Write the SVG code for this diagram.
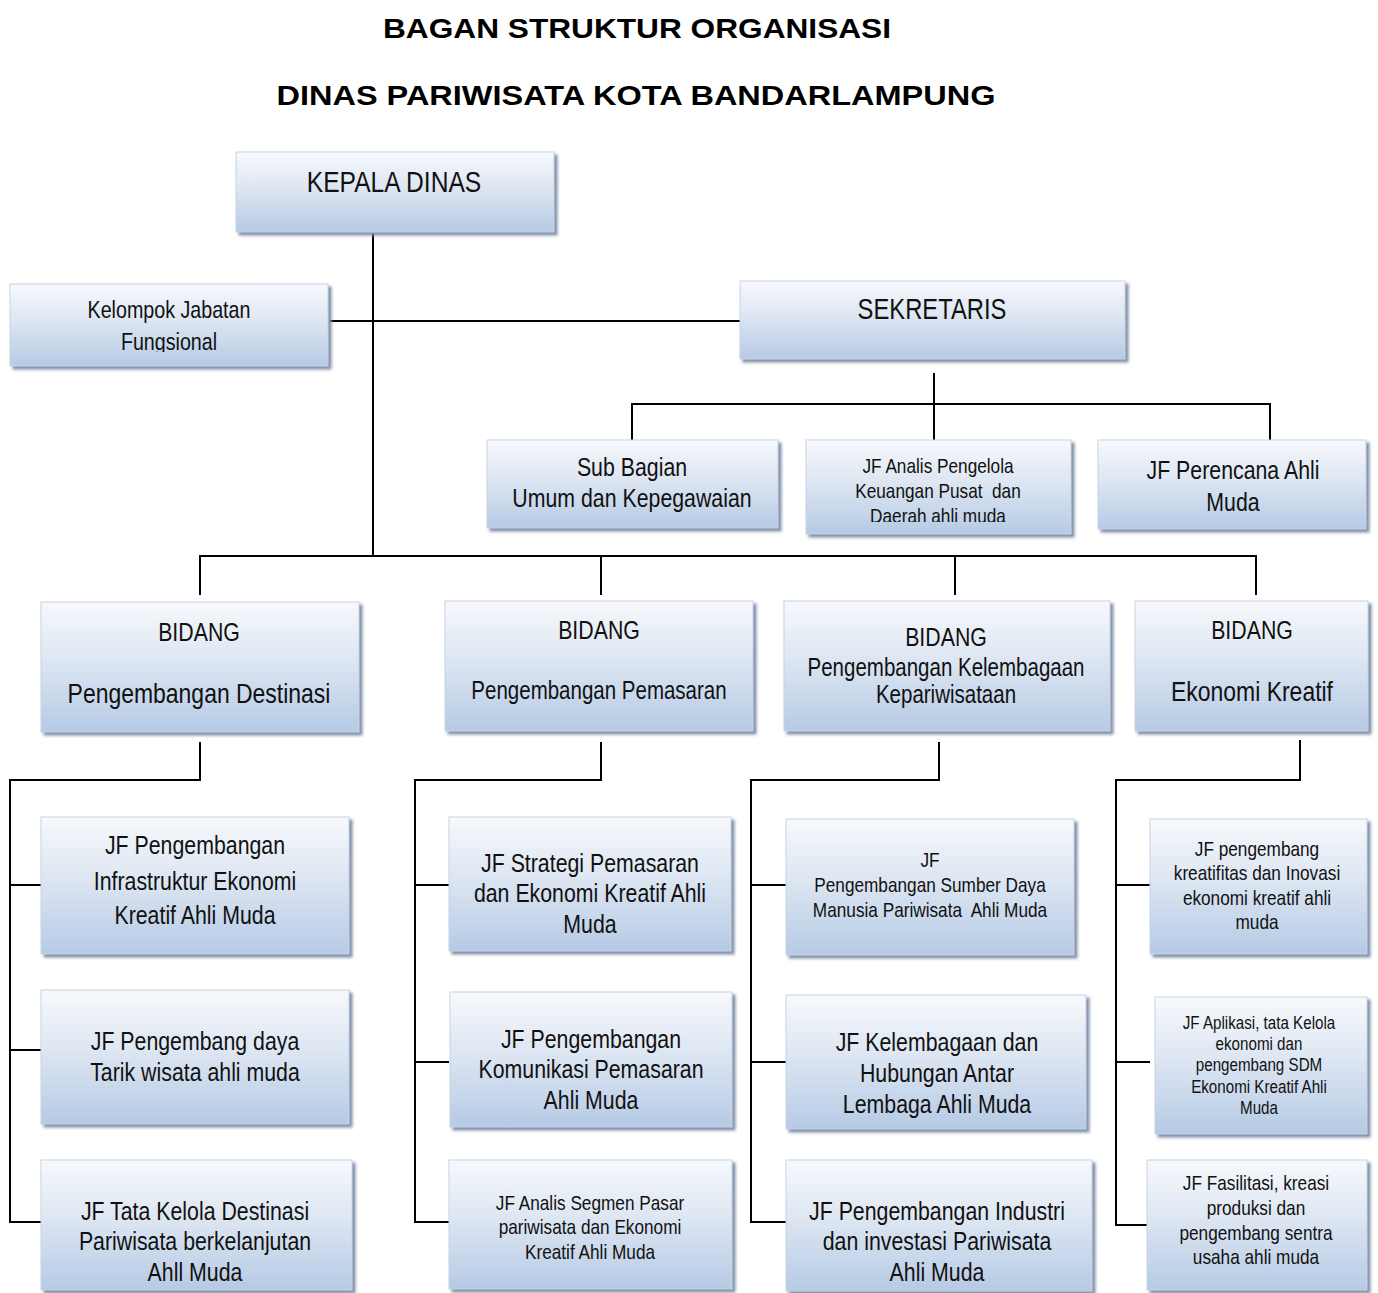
<svg xmlns="http://www.w3.org/2000/svg" width="1378" height="1293" viewBox="0 0 1378 1293">
<defs>
<linearGradient id="g" x1="0" y1="0" x2="0" y2="1">
<stop offset="0" stop-color="#f7f9fc"/>
<stop offset="0.45" stop-color="#dde6f2"/>
<stop offset="1" stop-color="#b6cae5"/>
</linearGradient>
<filter id="sh" x="-5%" y="-5%" width="115%" height="120%">
<feGaussianBlur in="SourceAlpha" stdDeviation="1.5"/>
<feOffset dx="3" dy="3" result="b"/>
<feFlood flood-color="#7f8fa8"/>
<feComposite in2="b" operator="in"/>
<feMerge><feMergeNode/><feMergeNode in="SourceGraphic"/></feMerge>
</filter>
<clipPath id="c1"><rect x="10" y="284" width="320" height="68"/></clipPath>
<clipPath id="c2"><rect x="806" y="440" width="267" height="82"/></clipPath>
</defs>
<style>
.b{fill:url(#g);stroke:#c8d3e3;stroke-width:1;filter:url(#sh)}
.t{font-family:"Liberation Sans",Arial,sans-serif;fill:#111;text-anchor:middle}
.p{white-space:pre}
.h{font-family:"Liberation Sans",Arial,sans-serif;font-weight:bold;font-size:28px;fill:#000;text-anchor:middle}
.l{stroke:#000;stroke-width:2;fill:none}
</style>
<rect width="1378" height="1293" fill="#fff"/>
<text class="h" x="637" y="38" textLength="508" lengthAdjust="spacingAndGlyphs">BAGAN STRUKTUR ORGANISASI</text>
<text class="h" x="636" y="105" textLength="719" lengthAdjust="spacingAndGlyphs">DINAS PARIWISATA KOTA BANDARLAMPUNG</text>

<g id="connectors">
<path class="l" d="M373 232V556M330 321H740M934 373V440M632 440V404H1270V440M200 595V556H1256V595M601 556V595M955 556V595"/>
<path class="l" d="M200 742V780H10V1222H41M10 885H41M10 1050H41"/>
<path class="l" d="M601 742V780H415V1222H449M415 885H449M415 1062H449"/>
<path class="l" d="M939 742V780H751V1222H786M751 885H786M751 1062H786"/>
<path class="l" d="M1300 740V780H1116V1225H1150M1116 885H1150M1116 1062H1150"/>
</g>

<g id="kepala"><rect class="b" x="236" y="152" width="318" height="80"/><text class="t" transform="matrix(.82 0 0 1 394 0)" x="0" y="192" font-size="30">KEPALA DINAS</text></g>
<g id="kelompok"><rect class="b" x="10" y="284" width="318" height="82"/><g clip-path="url(#c1)"><text class="t" transform="matrix(.82 0 0 1 169 0)" x="0" y="318" font-size="24">Kelompok Jabatan</text><text class="t" transform="matrix(.82 0 0 1 169 0)" x="0" y="350" font-size="24">Fungsional</text></g></g>
<g id="sekretaris"><rect class="b" x="740" y="281" width="385" height="78"/><text class="t" transform="matrix(.82 0 0 1 932 0)" x="0" y="319" font-size="29">SEKRETARIS</text></g>
<g id="subbag"><rect class="b" x="487" y="440" width="291" height="88"/><text class="t" transform="matrix(.82 0 0 1 632 0)" x="0" y="476" font-size="26">Sub Bagian</text><text class="t" transform="matrix(.82 0 0 1 632 0)" x="0" y="507" font-size="26">Umum dan Kepegawaian</text></g>
<g id="jfanalis"><rect class="b" x="806" y="440" width="265" height="94"/><g clip-path="url(#c2)"><text class="t" transform="matrix(.82 0 0 1 938 0)" x="0" y="473" font-size="21">JF Analis Pengelola</text><text class="t p" transform="matrix(.82 0 0 1 938 0)" x="0" y="498" font-size="21">Keuangan Pusat  dan</text><text class="t" transform="matrix(.82 0 0 1 938 0)" x="0" y="523" font-size="21">Daerah ahli muda</text></g></g>
<g id="jfperencana"><rect class="b" x="1098" y="440" width="268" height="89"/><text class="t" transform="matrix(.82 0 0 1 1233 0)" x="0" y="479" font-size="26">JF Perencana Ahli</text><text class="t" transform="matrix(.82 0 0 1 1233 0)" x="0" y="511" font-size="26">Muda</text></g>

<g id="bidang1"><rect class="b" x="41" y="602" width="318" height="130"/><text class="t" transform="matrix(.82 0 0 1 199 0)" x="0" y="641" font-size="26">BIDANG</text><text class="t" transform="matrix(.82 0 0 1 199 0)" x="0" y="703" font-size="28">Pengembangan Destinasi</text></g>
<g id="bidang2"><rect class="b" x="445" y="601" width="308" height="130"/><text class="t" transform="matrix(.82 0 0 1 599 0)" x="0" y="639" font-size="26">BIDANG</text><text class="t" transform="matrix(.82 0 0 1 599 0)" x="0" y="699" font-size="25">Pengembangan Pemasaran</text></g>
<g id="bidang3"><rect class="b" x="784" y="601" width="326" height="130"/><text class="t" transform="matrix(.82 0 0 1 946 0)" x="0" y="646" font-size="26">BIDANG</text><text class="t" transform="matrix(.82 0 0 1 946 0)" x="0" y="676" font-size="25">Pengembangan Kelembagaan</text><text class="t" transform="matrix(.82 0 0 1 946 0)" x="0" y="703" font-size="25">Kepariwisataan</text></g>
<g id="bidang4"><rect class="b" x="1135" y="601" width="233" height="130"/><text class="t" transform="matrix(.82 0 0 1 1252 0)" x="0" y="639" font-size="26">BIDANG</text><text class="t" transform="matrix(.82 0 0 1 1252 0)" x="0" y="701" font-size="28">Ekonomi Kreatif</text></g>

<g id="c1a"><rect class="b" x="41" y="817" width="308" height="137"/><text class="t" transform="matrix(.82 0 0 1 195 0)" x="0" y="854" font-size="26">JF Pengembangan</text><text class="t" transform="matrix(.82 0 0 1 195 0)" x="0" y="890" font-size="26">Infrastruktur Ekonomi</text><text class="t" transform="matrix(.82 0 0 1 195 0)" x="0" y="924" font-size="26">Kreatif Ahli Muda</text></g>
<g id="c1b"><rect class="b" x="41" y="990" width="308" height="134"/><text class="t" transform="matrix(.82 0 0 1 195 0)" x="0" y="1050" font-size="26">JF Pengembang daya</text><text class="t" transform="matrix(.82 0 0 1 195 0)" x="0" y="1081" font-size="26">Tarik wisata ahli muda</text></g>
<g id="c1c"><rect class="b" x="41" y="1160" width="311" height="130"/><text class="t" transform="matrix(.82 0 0 1 195 0)" x="0" y="1220" font-size="26">JF Tata Kelola Destinasi</text><text class="t" transform="matrix(.82 0 0 1 195 0)" x="0" y="1250" font-size="26">Pariwisata berkelanjutan</text><text class="t" transform="matrix(.82 0 0 1 195 0)" x="0" y="1281" font-size="26">Ahll Muda</text></g>

<g id="c2a"><rect class="b" x="449" y="817" width="282" height="134"/><text class="t" transform="matrix(.82 0 0 1 590 0)" x="0" y="872" font-size="26">JF Strategi Pemasaran</text><text class="t" transform="matrix(.82 0 0 1 590 0)" x="0" y="902" font-size="26">dan Ekonomi Kreatif Ahli</text><text class="t" transform="matrix(.82 0 0 1 590 0)" x="0" y="933" font-size="26">Muda</text></g>
<g id="c2b"><rect class="b" x="450" y="992" width="282" height="135"/><text class="t" transform="matrix(.82 0 0 1 591 0)" x="0" y="1048" font-size="26">JF Pengembangan</text><text class="t" transform="matrix(.82 0 0 1 591 0)" x="0" y="1078" font-size="26">Komunikasi Pemasaran</text><text class="t" transform="matrix(.82 0 0 1 591 0)" x="0" y="1109" font-size="26">Ahli Muda</text></g>
<g id="c2c"><rect class="b" x="449" y="1160" width="283" height="129"/><text class="t" transform="matrix(.82 0 0 1 590 0)" x="0" y="1210" font-size="21">JF Analis Segmen Pasar</text><text class="t" transform="matrix(.82 0 0 1 590 0)" x="0" y="1234" font-size="21">pariwisata dan Ekonomi</text><text class="t" transform="matrix(.82 0 0 1 590 0)" x="0" y="1259" font-size="21">Kreatif Ahli Muda</text></g>

<g id="c3a"><rect class="b" x="786" y="819" width="288" height="136"/><text class="t" transform="matrix(.82 0 0 1 930 0)" x="0" y="867" font-size="21">JF</text><text class="t" transform="matrix(.82 0 0 1 930 0)" x="0" y="892" font-size="21">Pengembangan Sumber Daya</text><text class="t p" transform="matrix(.82 0 0 1 930 0)" x="0" y="917" font-size="21">Manusia Pariwisata  Ahli Muda</text></g>
<g id="c3b"><rect class="b" x="786" y="995" width="300" height="134"/><text class="t" transform="matrix(.82 0 0 1 937 0)" x="0" y="1051" font-size="26">JF Kelembagaan dan</text><text class="t" transform="matrix(.82 0 0 1 937 0)" x="0" y="1082" font-size="26">Hubungan Antar</text><text class="t" transform="matrix(.82 0 0 1 937 0)" x="0" y="1113" font-size="26">Lembaga Ahli Muda</text></g>
<g id="c3c"><rect class="b" x="786" y="1160" width="306" height="131"/><text class="t" transform="matrix(.82 0 0 1 937 0)" x="0" y="1220" font-size="26">JF Pengembangan Industri</text><text class="t" transform="matrix(.82 0 0 1 937 0)" x="0" y="1250" font-size="26">dan investasi Pariwisata</text><text class="t" transform="matrix(.82 0 0 1 937 0)" x="0" y="1281" font-size="26">Ahli Muda</text></g>

<g id="c4a"><rect class="b" x="1150" y="819" width="217" height="135"/><text class="t" transform="matrix(.82 0 0 1 1257 0)" x="0" y="856" font-size="21">JF pengembang</text><text class="t" transform="matrix(.82 0 0 1 1257 0)" x="0" y="880" font-size="21">kreatifitas dan Inovasi</text><text class="t" transform="matrix(.82 0 0 1 1257 0)" x="0" y="905" font-size="21">ekonomi kreatif ahli</text><text class="t" transform="matrix(.82 0 0 1 1257 0)" x="0" y="929" font-size="21">muda</text></g>
<g id="c4b"><rect class="b" x="1155" y="997" width="212" height="137"/><text class="t" transform="matrix(.82 0 0 1 1259 0)" x="0" y="1029" font-size="18.5">JF Aplikasi, tata Kelola</text><text class="t" transform="matrix(.82 0 0 1 1259 0)" x="0" y="1050" font-size="18.5">ekonomi dan</text><text class="t" transform="matrix(.82 0 0 1 1259 0)" x="0" y="1071" font-size="18.5">pengembang SDM</text><text class="t" transform="matrix(.82 0 0 1 1259 0)" x="0" y="1093" font-size="18.5">Ekonomi Kreatif Ahli</text><text class="t" transform="matrix(.82 0 0 1 1259 0)" x="0" y="1114" font-size="18.5">Muda</text></g>
<g id="c4c"><rect class="b" x="1147" y="1160" width="220" height="130"/><text class="t" transform="matrix(.82 0 0 1 1256 0)" x="0" y="1190" font-size="21">JF Fasilitasi, kreasi</text><text class="t" transform="matrix(.82 0 0 1 1256 0)" x="0" y="1215" font-size="21">produksi dan</text><text class="t" transform="matrix(.82 0 0 1 1256 0)" x="0" y="1240" font-size="21">pengembang sentra</text><text class="t" transform="matrix(.82 0 0 1 1256 0)" x="0" y="1264" font-size="21">usaha ahli muda</text></g>
</svg>
